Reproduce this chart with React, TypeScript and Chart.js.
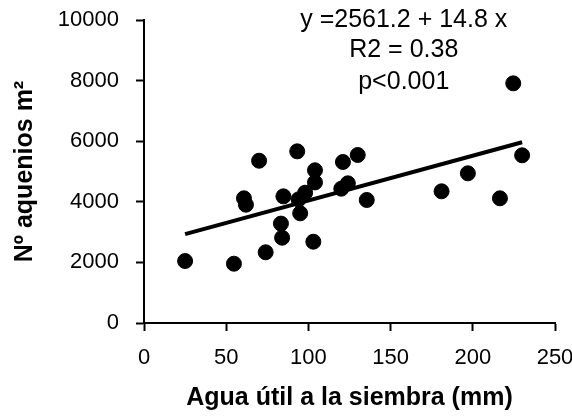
import React, { useEffect, useRef } from "react";
import { Chart, registerables } from "chart.js";

Chart.register(...registerables);

const waterMm = [25, 54.7, 74, 84, 83.3, 103, 95, 60.8, 62, 70, 84.8, 93.2, 94, 98, 104, 104, 121, 130, 120, 124, 135.5, 224.6, 230, 197, 181, 216.5];
const achenes = [2046, 1957, 2333, 2815, 3280, 2683, 3620, 4115, 3905, 5356, 4180, 5665, 4080, 4300, 5040, 4640, 5314, 5545, 4433, 4610, 4060, 7910, 5534, 4940, 4346, 4115];

const fitX = [25, 230];
const fitY = [2931, 5965];

const xTicks = [0, 50, 100, 150, 200, 250];
const yTicks = [0, 2000, 4000, 6000, 8000, 10000];

const annotationLines = ["y =2561.2 + 14.8 x", "R2 = 0.38", "p<0.001"];
const annotationX = 158;
const annotationY = [10000, 8990, 7965];

const FONT = "'Liberation Sans', Arial, sans-serif";

const annotationPlugin = {
  id: "eqText",
  afterDatasetsDraw(chart: any) {
    const { ctx, scales } = chart;
    ctx.save();
    ctx.fillStyle = "#000";
    ctx.font = `25px ${FONT}`;
    ctx.textAlign = "center";
    ctx.textBaseline = "middle";
    annotationLines.forEach((t, i) => {
      ctx.fillText(t, scales.x.getPixelForValue(annotationX), scales.y.getPixelForValue(annotationY[i]));
    });
    ctx.restore();
  },
};

export default function App() {
  const ref = useRef<HTMLCanvasElement | null>(null);
  useEffect(() => {
    if (!ref.current) return;
    const chart = new Chart(ref.current, {
      type: "scatter",
      data: {
        datasets: [
          {
            data: waterMm.map((x, i) => ({ x, y: achenes[i] })),
            backgroundColor: "#000",
            borderColor: "#000",
            pointRadius: 7.5,
            pointHoverRadius: 7.5,
          },
          {
            type: "line",
            data: fitX.map((x, i) => ({ x, y: fitY[i] })),
            borderColor: "#000",
            borderWidth: 4,
            pointRadius: 0,
            fill: false,
          } as any,
        ],
      },
      options: {
        animation: false,
        responsive: false,
        maintainAspectRatio: false,
        layout: { padding: { top: 20, right: 17, bottom: 0, left: 0 } },
        plugins: { legend: { display: false }, tooltip: { enabled: false } },
        scales: {
          x: {
            type: "linear",
            min: 0,
            max: 250,
            afterBuildTicks: (s: any) => { s.ticks = xTicks.map((v) => ({ value: v })); },
            afterFit: (s: any) => { s.height = 93; s.paddingLeft = 0; s.paddingRight = 0; },
            border: { display: true, color: "#000", width: 2 },
            grid: { display: true, drawOnChartArea: false, drawTicks: true, tickLength: 8, tickWidth: 2, tickColor: "#000" },
            ticks: { color: "#000", font: { family: FONT, size: 22 }, padding: 14, maxRotation: 0, callback: (v: any) => String(v) },
            title: { display: true, text: "Agua útil a la siembra (mm)", color: "#000", font: { family: FONT, size: 25, weight: "bold" }, padding: { top: 0, bottom: 3 } },
          },
          y: {
            type: "linear",
            min: 0,
            max: 10000,
            afterBuildTicks: (s: any) => { s.ticks = yTicks.map((v) => ({ value: v })); },
            afterFit: (s: any) => { s.width = 144; s.paddingTop = 0; s.paddingBottom = 0; },
            border: { display: true, color: "#000", width: 2 },
            grid: { display: true, drawOnChartArea: false, drawTicks: true, tickLength: 8, tickWidth: 2, tickColor: "#000" },
            ticks: { color: "#000", font: { family: FONT, size: 22 }, padding: 17, callback: (v: any) => String(v) },
            title: { display: true, text: "Nº aquenios m²", color: "#000", font: { family: FONT, size: 25, weight: "bold" }, padding: { top: 10, bottom: 0 } },
          },
        },
      },
      plugins: [annotationPlugin],
    });
    return () => chart.destroy();
  }, []);
  return (
    <div style={{ position: "fixed", left: 0, top: 0, width: 572, height: 416, background: "#fff" }}>
      <canvas ref={ref} width={572} height={416} style={{ width: 572, height: 416 }} />
    </div>
  );
}
